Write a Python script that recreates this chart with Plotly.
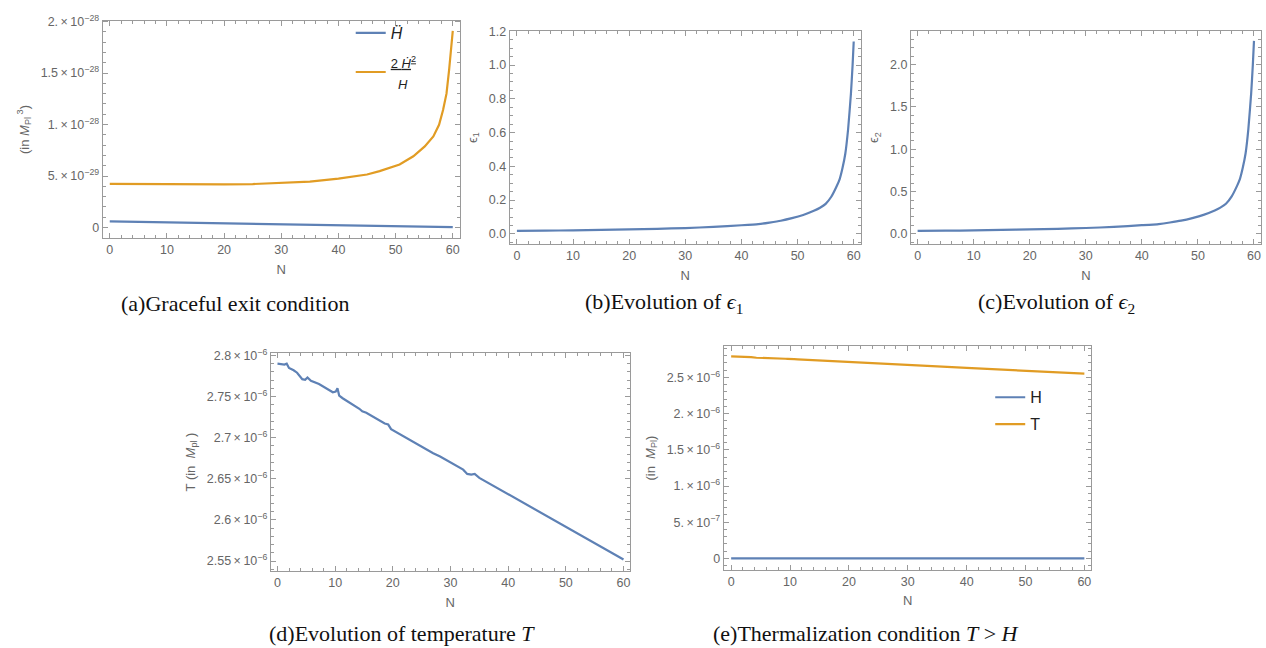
import plotly.graph_objects as go

BLUE = "#5E81B5"
ORANGE = "#E19C24"
FRAME = "#9a9a9a"
TICKC = "#666666"
SANS = "Liberation Sans, Arial, sans-serif"
SERIF = "Liberation Serif, Times New Roman, serif"

# ---------------- data ----------------
N_ticks = [0, 10, 20, 30, 40, 50, 60]
N_tick_text = ["0", "10", "20", "30", "40", "50", "60"]

# (a) graceful exit
N_hddot = [0, 10, 20, 30, 40, 50, 60]
hddot = [6.0e-30, 5.1e-30, 4.2e-30, 3.2e-30, 2.3e-30, 1.3e-30, 0.3e-30]
N_grace = [0, 5, 10, 15, 20, 25, 30, 35, 40, 45, 47.2, 50.7, 53.1, 55.1, 56.6,
           57.6, 58.3, 58.9, 59.35, 59.8, 60]
grace = [4.23e-29, 4.21e-29, 4.19e-29, 4.18e-29, 4.19e-29, 4.22e-29, 4.30e-29,
         4.45e-29, 4.75e-29, 5.15e-29, 5.48e-29, 6.12e-29, 6.92e-29, 7.88e-29,
         8.85e-29, 9.97e-29, 1.141e-28, 1.30e-28, 1.526e-28, 1.78e-28, 1.91e-28]
a_ytick_vals = [0, 5e-29, 1e-28, 1.5e-28, 2e-28]
a_ytick_text = ["0", "5.\u2009×\u200910<sup>−29</sup>", "1.\u2009×\u200910<sup>−28</sup>",
                "1.5\u2009×\u200910<sup>−28</sup>", "2.\u2009×\u200910<sup>−28</sup>"]

# (b) epsilon_1
N_eps = [0, 5, 10, 15, 20, 25, 30, 35, 40, 43, 45, 47, 49, 51, 53, 54, 55, 56,
         57, 57.5, 58, 58.5, 59, 59.5, 59.8, 60]
eps1 = [0.0176, 0.0191, 0.0210, 0.0233, 0.0261, 0.0298, 0.0346, 0.0412, 0.0511,
        0.058, 0.0672, 0.078, 0.093, 0.112, 0.138, 0.155, 0.178, 0.220, 0.285,
        0.325, 0.39, 0.475, 0.62, 0.83, 1.0, 1.14]
b_ytick_vals = [0, 0.2, 0.4, 0.6, 0.8, 1.0, 1.2]
b_ytick_text = ["0.0", "0.2", "0.4", "0.6", "0.8", "1.0", "1.2"]

# (c) epsilon_2
eps2 = [0.034, 0.037, 0.041, 0.046, 0.052, 0.059, 0.069, 0.082, 0.102, 0.116,
        0.134, 0.156, 0.186, 0.224, 0.276, 0.31, 0.356, 0.44, 0.57, 0.65, 0.78,
        0.95, 1.24, 1.66, 2.0, 2.28]
c_ytick_vals = [0, 0.5, 1.0, 1.5, 2.0]
c_ytick_text = ["0.0", "0.5", "1.0", "1.5", "2.0"]

# (d) temperature
N_T = [0, 0.9, 1.2, 1.6, 2.0, 2.8, 3.4, 4.3, 4.8, 5.2, 5.8, 7.2, 9.2, 9.6, 10.1,
       10.4, 10.7, 11.3, 14.2, 14.7, 15.4, 18.6, 19.2, 19.7, 27.0, 27.7, 28.2,
       32.2, 32.9, 33.6, 34.2, 35.0, 40, 50, 60]
T = [2.790e-6, 2.7894e-6, 2.789e-6, 2.790e-6, 2.7848e-6, 2.782e-6, 2.779e-6,
     2.7712e-6, 2.7704e-6, 2.7732e-6, 2.7692e-6, 2.7652e-6, 2.7572e-6, 2.7552e-6,
     2.7560e-6, 2.760e-6, 2.7512e-6, 2.748e-6, 2.7352e-6, 2.732e-6, 2.7304e-6,
     2.7172e-6, 2.716e-6, 2.7104e-6, 2.6812e-6, 2.6792e-6, 2.6772e-6, 2.6612e-6,
     2.656e-6, 2.6552e-6, 2.656e-6, 2.6512e-6, 2.6315e-6, 2.5917e-6, 2.552e-6]
d_ytick_vals = [2.55e-6, 2.6e-6, 2.65e-6, 2.7e-6, 2.75e-6, 2.8e-6]
d_ytick_text = ["2.55\u2009×\u200910<sup>−6</sup>", "2.6\u2009×\u200910<sup>−6</sup>",
                "2.65\u2009×\u200910<sup>−6</sup>", "2.7\u2009×\u200910<sup>−6</sup>",
                "2.75\u2009×\u200910<sup>−6</sup>", "2.8\u2009×\u200910<sup>−6</sup>"]

# (e) thermalization
N_H = [0, 20, 40, 60]
H = [1.2e-9, 1.1e-9, 1.0e-9, 0.9e-9]
e_ytick_vals = [0, 5e-7, 1e-6, 1.5e-6, 2e-6, 2.5e-6]
e_ytick_text = ["0", "5.\u2009×\u200910<sup>−7</sup>", "1.\u2009×\u200910<sup>−6</sup>",
                "1.5\u2009×\u200910<sup>−6</sup>", "2.\u2009×\u200910<sup>−6</sup>",
                "2.5\u2009×\u200910<sup>−6</sup>"]

# ---------------- figure ----------------
W, Hh = 1266, 648
def px(x):
    return x / W
def py(y):
    return 1 - y / Hh

fig = go.Figure()
LW = 2.2

fig.add_trace(go.Scatter(x=N_hddot, y=hddot, mode="lines", line=dict(color=BLUE, width=LW),
                         name="<i>H\u0308</i>", xaxis="x", yaxis="y", legend="legend",
                         legendgroup="g1"))
fig.add_trace(go.Scatter(x=N_grace, y=grace, mode="lines", line=dict(color=ORANGE, width=LW),
                         name="<u><span style='font-size:13px'>2 <i>\u1E22</i><sup>2</sup></span></u><br><span style='font-size:13px'>  <i>H</i></span>",
                         xaxis="x", yaxis="y", legend="legend", legendgroup="g2"))
fig.add_trace(go.Scatter(x=N_eps, y=eps1, mode="lines", line=dict(color=BLUE, width=LW, shape="spline", smoothing=0.4),
                         showlegend=False, xaxis="x2", yaxis="y2"))
fig.add_trace(go.Scatter(x=N_eps, y=eps2, mode="lines", line=dict(color=BLUE, width=LW, shape="spline", smoothing=0.4),
                         showlegend=False, xaxis="x3", yaxis="y3"))
fig.add_trace(go.Scatter(x=N_T, y=T, mode="lines", line=dict(color=BLUE, width=LW),
                         showlegend=False, xaxis="x4", yaxis="y4"))
fig.add_trace(go.Scatter(x=N_H, y=H, mode="lines", line=dict(color=BLUE, width=LW),
                         name="H", xaxis="x5", yaxis="y5", legend="legend2", legendgroup="gH"))
fig.add_trace(go.Scatter(x=N_T, y=T, mode="lines", line=dict(color=ORANGE, width=LW),
                         name="T", xaxis="x5", yaxis="y5", legend="legend2", legendgroup="gT"))

tickfont = dict(family=SANS, size=12.5, color=TICKC)
titlefont = dict(family=SANS, size=13, color=TICKC)

def xax(dom, rng, anchor, standoff=8):
    return dict(domain=dom, range=rng, anchor=anchor, showline=True, linecolor=FRAME,
                linewidth=1, mirror="allticks", ticks="inside", ticklen=5, tickcolor=FRAME,
                tickmode="array", tickvals=N_ticks, ticktext=N_tick_text,
                minor=dict(ticks="inside", ticklen=3, dtick=2, tick0=0, tickcolor=FRAME, showgrid=False),
                showgrid=False, zeroline=False, tickfont=tickfont,
                title=dict(text="N", font=titlefont, standoff=standoff))

def yax(dom, rng, anchor, vals, text, minor_dtick, title, standoff=8):
    return dict(domain=dom, range=rng, anchor=anchor, showline=True, linecolor=FRAME,
                linewidth=1, mirror="allticks", ticks="inside", ticklen=5, tickcolor=FRAME,
                tickmode="array", tickvals=vals, ticktext=text,
                minor=dict(ticks="inside", ticklen=3, dtick=minor_dtick, tick0=0, tickcolor=FRAME, showgrid=False),
                showgrid=False, zeroline=False, tickfont=tickfont,
                title=dict(text=title, font=titlefont, standoff=standoff))

fig.update_layout(
    width=W, height=Hh, margin=dict(l=0, r=0, t=0, b=0),
    paper_bgcolor="white", plot_bgcolor="white",
    xaxis=xax([px(102.7), px(460)], [-1.25, 61.2], "y"),
    yaxis=yax([py(233.3), py(12.7)], [-1.06e-29, 2.01e-28], "x", a_ytick_vals, a_ytick_text, 1e-29,
              "(in <i>M</i><sub>Pl</sub><sup> 3</sup>)"),
    xaxis2=xax([px(510), px(861.7)], [-1.3, 61.3], "y2"),
    yaxis2=yax([py(239.3), py(23.3)], [-0.062, 1.202], "x2", b_ytick_vals, b_ytick_text, 0.05,
               "\u03f5<sub>1</sub>"),
    xaxis3=xax([px(911.7), px(1261.7)], [-1.18, 61.2], "y3"),
    yaxis3=yax([py(239.3), py(23.3)], [-0.124, 2.397], "x3", c_ytick_vals, c_ytick_text, 0.1,
               "\u03f5<sub>2</sub>"),
    xaxis4=xax([px(271), px(630)], [-1.16, 61.04], "y4"),
    yaxis4=yax([py(570), py(349.3)], [2.538e-6, 2.803e-6], "x4", d_ytick_vals, d_ytick_text, 1e-8,
               "T (in  <i>M</i><sub>pl</sub> )"),
    xaxis5=xax([px(724.3), px(1092.3)], [-1.26, 61.2], "y5"),
    yaxis5=yax([py(568.7), py(342.7)], [-0.155e-6, 2.927e-6], "x5", e_ytick_vals, e_ytick_text, 1e-7,
               "(in  <i>M</i><sub>Pl</sub>)"),
    legend=dict(x=px(351), y=py(8), xanchor="left", yanchor="top", bgcolor="rgba(0,0,0,0)",
                font=dict(family=SANS, size=16, color="#222222"), itemwidth=30,
                tracegroupgap=5),
    legend2=dict(x=px(991), y=py(377), xanchor="left", yanchor="top", bgcolor="rgba(0,0,0,0)",
                 font=dict(family=SANS, size=16, color="#222222"), itemwidth=30,
                 tracegroupgap=3),
    showlegend=True,
)

captions = [
    ("(a)Graceful exit condition", 235, 299),
    ("(b)Evolution of <i>\u03f5</i><sub>1</sub>", 665, 299),
    ("(c)Evolution of <i>\u03f5</i><sub>2</sub>", 1057, 299),
    ("(d)Evolution of temperature <i>T</i>", 402, 633),
    ("(e)Thermalization condition <i>T</i> &gt; <i>H</i>", 867, 633),
]
for txt, cx, cy in captions:
    fig.add_annotation(text=txt, x=px(cx), y=py(cy), xref="paper", yref="paper",
                       xanchor="center", yanchor="middle", showarrow=False,
                       font=dict(family=SERIF, size=22, color="#111111"))

fig.write_html("out.html", config={"displayModeBar": False},
               post_script="document.body.style.margin='0';document.body.style.overflow='hidden';")
